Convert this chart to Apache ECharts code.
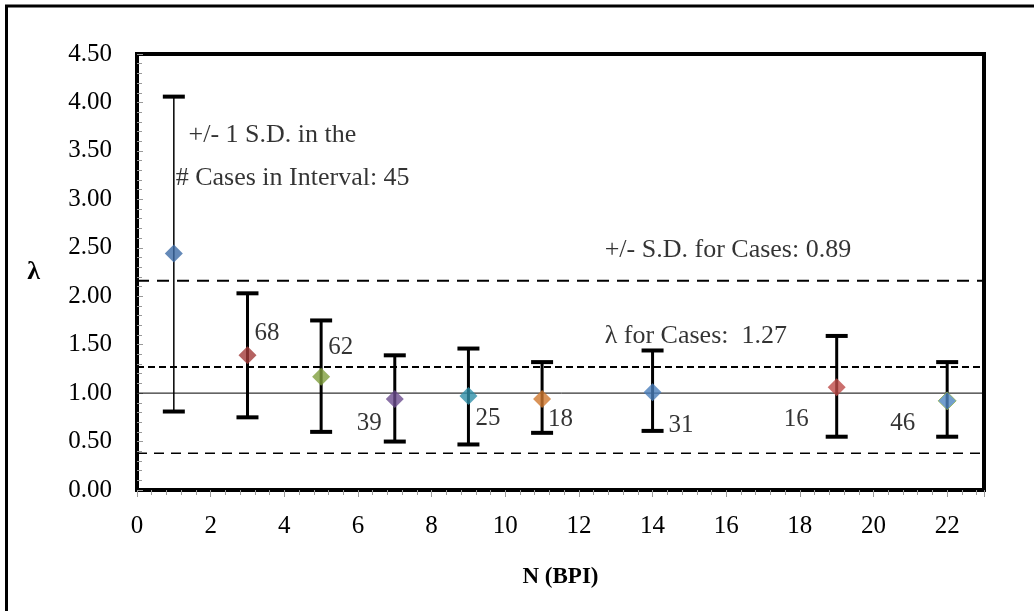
<!DOCTYPE html>
<html>
<head>
<meta charset="utf-8">
<script src="https://cdn.jsdelivr.net/npm/echarts@6/dist/echarts.min.js"></script>
<style>
  html, body { margin: 0; padding: 0; background: #fff; }
  #chart { width: 1034px; height: 611px; }
</style>
</head>
<body>
<div id="chart"></div>
<script>
// values
const nValues = [1, 3, 5, 7, 9, 11, 14, 19, 22];
const lambdaValues = [2.44, 1.39, 1.17, 0.94, 0.97, 0.94, 1.01, 1.06, 0.92];
const sdLow = [0.81, 0.75, 0.60, 0.50, 0.47, 0.59, 0.61, 0.55, 0.55];
const sdHigh = [4.06, 2.03, 1.75, 1.39, 1.46, 1.32, 1.44, 1.59, 1.32];
const caseCounts = [45, 68, 62, 39, 25, 18, 31, 16, 46];
const meanLambda = 1.27;
const sdCases = 0.89;
const yTicks = [0, 0.5, 1, 1.5, 2, 2.5, 3, 3.5, 4, 4.5];

const pointColors = ["#3d6ba6", "#a33b3a", "#7f9f3d", "#6b4c8f", "#2e8fa8",
  "#d0782e", "#4a7ebb", "#be4b48", "#4f86c0"];
// where each count label sits, relative to its point
const countLabelPos = [
  null,
  { y: 1.62, dx: 7, align: "left" },
  { y: 1.47, dx: 7, align: "left" },
  { y: 0.69, dx: -13, align: "right" },
  { y: 0.74, dx: 7, align: "left" },
  { y: 0.73, dx: 6, align: "left" },
  { y: 0.67, dx: 16, align: "left" },
  { y: 0.73, dx: -28, align: "right" },
  { y: 0.69, dx: -32, align: "right" },
];

const font = "'Liberation Serif', 'Times New Roman', serif";
const chart = echarts.init(document.getElementById("chart"));

const hLine = (name, v, style) => ({
  name: name,
  type: "line",
  data: [[0, v], [23.1, v]],
  symbol: "none",
  clip: false,
  silent: true,
  z: 1,
  lineStyle: style,
});

const labelData = [];
caseCounts.forEach((c, i) => {
  const p = countLabelPos[i];
  if (!p) return;
  labelData.push({
    value: [nValues[i], p.y],
    label: { formatter: String(c), offset: [p.dx, 0], align: p.align },
  });
});

const noteData = [
  { value: [1.4, 3.66], label: { formatter: "+/- 1 S.D. in the" } },
  { value: [1.05, 3.22], label: { formatter: "# Cases in Interval: " + caseCounts[0] } },
  { value: [12.7, 2.48], label: { formatter: "+/- S.D. for Cases: " + sdCases.toFixed(2) } },
  { value: [12.7, 1.59], label: { formatter: "λ for Cases:  " + meanLambda.toFixed(2) } },
];

chart.setOption({
  animation: false,
  backgroundColor: "#fff",
  textStyle: { fontFamily: font },
  graphic: [{
    type: "rect",
    shape: { x: 6.5, y: 6, width: 1040, height: 620 },
    style: { fill: "none", stroke: "#000", lineWidth: 3 },
    silent: true,
  }],
  grid: {
    left: 137, top: 54, right: 50, bottom: 121,
    show: true,
    borderColor: "#000",
    borderWidth: 4,
  },
  xAxis: {
    type: "value",
    min: 0,
    max: 23,
    interval: 2,
    name: "N (BPI)",
    nameLocation: "middle",
    nameGap: 76,
    nameTextStyle: { fontFamily: font, fontWeight: "bold", fontSize: 23, color: "#000" },
    axisLine: { show: true, lineStyle: { color: "#000", width: 4 } },
    axisTick: { show: true, inside: false, length: 7, lineStyle: { color: "#999" } },
    minorTick: { show: true, splitNumber: 5, length: 5, lineStyle: { color: "#999" } },
    axisLabel: { showMaxLabel: false, margin: 24, fontSize: 25, color: "#000", fontFamily: font },
    splitLine: { show: false },
  },
  yAxis: {
    type: "value",
    min: 0,
    max: 4.5,
    interval: 0.5,
    name: "λ",
    nameLocation: "middle",
    nameGap: 97,
    nameRotate: 0,
    nameTextStyle: { fontFamily: font, fontWeight: "bold", fontSize: 26, color: "#000" },
    axisLine: { show: true, lineStyle: { color: "#000", width: 4 } },
    axisTick: { show: true, inside: true, length: 6, lineStyle: { color: "#999" } },
    minorTick: { show: true, splitNumber: 5, length: 5, lineStyle: { color: "#999" } },
    axisLabel: {
      margin: 25, fontSize: 25, color: "#000", fontFamily: font,
      formatter: (v) => (yTicks.includes(v) ? v.toFixed(2) : ""),
    },
    splitLine: { show: false },
  },
  series: [
    hLine("mean + sd", meanLambda + sdCases, { color: "#000", width: 2, type: [12, 8] }),
    hLine("mean", meanLambda, { color: "#000", width: 2, type: [7, 4] }),
    hLine("unity", 1, { color: "#000", width: 1, type: "solid" }),
    hLine("mean - sd", meanLambda - sdCases, { color: "#000", width: 1.5, type: [10, 7] }),
    {
      name: "sd bars",
      type: "custom",
      z: 3,
      data: nValues.map((n, i) => [n, sdLow[i], sdHigh[i]]),
      renderItem: (params, api) => {
        const top = api.coord([api.value(0), api.value(2)]);
        const bot = api.coord([api.value(0), api.value(1)]);
        const w = params.dataIndex === 0 ? 1.5 : 3;
        const cap = 11;
        const st = { stroke: "#000", lineWidth: w };
        const cs = { stroke: "#000", lineWidth: 4 };
        return {
          type: "group",
          children: [
            { type: "line", shape: { x1: top[0], y1: top[1], x2: bot[0], y2: bot[1] }, style: st },
            { type: "line", shape: { x1: top[0] - cap, y1: top[1], x2: top[0] + cap, y2: top[1] }, style: cs },
            { type: "line", shape: { x1: bot[0] - cap, y1: bot[1], x2: bot[0] + cap, y2: bot[1] }, style: cs },
          ],
        };
      },
    },
    {
      name: "lambda",
      type: "scatter",
      z: 5,
      symbol: "diamond",
      symbolSize: 18,
      data: nValues.map((n, i) => ({
        value: [n, lambdaValues[i]],
        itemStyle: {
          color: pointColors[i],
          borderColor: i === 8 ? "#8fb04f" : pointColors[i],
          borderWidth: i === 8 ? 1 : 0,
        },
      })),
    },
    {
      name: "counts",
      type: "scatter",
      z: 6,
      symbolSize: 0,
      silent: true,
      data: labelData,
      label: {
        show: true, position: "inside", fontSize: 25, color: "#000",
        textBorderWidth: 0, fontFamily: font,
      },
    },
    {
      name: "notes",
      type: "scatter",
      z: 6,
      symbolSize: 0,
      silent: true,
      data: noteData,
      label: {
        show: true, position: "inside", align: "left", fontSize: 26, color: "#000",
        textBorderWidth: 0, fontFamily: font,
      },
    },
  ],
});
</script>
</body>
</html>
